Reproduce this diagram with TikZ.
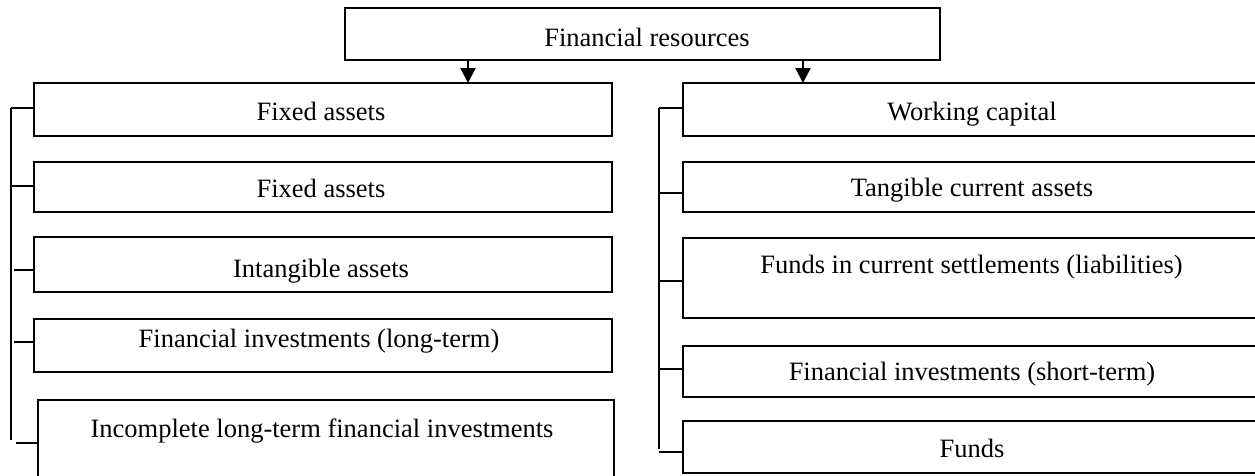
\documentclass[tikz,border=0pt]{standalone}
\usepackage{fontspec}
\setmainfont{Liberation Serif}
\usetikzlibrary{arrows.meta}
\begin{document}
\begin{tikzpicture}[x=1pt,y=-1pt,
  box/.style={draw=black,line width=2.2pt,rectangle,inner sep=0pt,outer sep=0pt},
  txt/.style={font=\fontsize{26.5}{30}\selectfont,inner sep=0pt,anchor=base},
  conn/.style={draw=black,line width=2.2pt},
  arr/.style={conn,-{Triangle[length=15pt,width=15pt]}}]
\useasboundingbox (0,0) rectangle (1255,475);
\clip (0,0) rectangle (1255,475);
% top box
\node[box,minimum width=595pt,minimum height=52pt] (top) at (642.5,34) {};
\node[txt] (ttop) at (647,46) {Financial resources};
% left boxes
\node[box,minimum width=578pt,minimum height=53pt] (L1) at (323,109.5) {};
\node[box,minimum width=578pt,minimum height=50pt] (L2) at (323,187) {};
\node[box,minimum width=578pt,minimum height=55pt] (L3) at (323,264.5) {};
\node[box,minimum width=578pt,minimum height=53pt] (L4) at (323,345.5) {};
\node[box,minimum width=576pt,minimum height=90pt] (L5) at (326,445) {};
\node[txt] at (321,120) {Fixed assets};
\node[txt] at (321,197) {Fixed assets};
\node[txt] at (321,277) {Intangible assets};
\node[txt] at (319,347) {Financial investments (long-term)};
\node[txt] at (322,437) {Incomplete long-term financial investments};
% right boxes
\node[box,minimum width=579pt,minimum height=53pt] (R1) at (972.5,109.5) {};
\node[box,minimum width=579pt,minimum height=50pt] (R2) at (972.5,187) {};
\node[box,minimum width=579pt,minimum height=80pt] (R3) at (972.5,278) {};
\node[box,minimum width=579pt,minimum height=51pt] (R4) at (972.5,371.5) {};
\node[box,minimum width=579pt,minimum height=52pt] (R5) at (972.5,447) {};
\node[txt] at (972,120) {Working capital};
\node[txt] at (972,196) {Tangible current assets};
\node[txt] at (971.5,273) {Funds in current settlements (liabilities)};
\node[txt] at (972,380) {Financial investments (short-term)};
\node[txt] at (972,457) {Funds};
% arrows
\draw[arr] (top.south -| 468,0) -- (L1.north -| 468,0);
\draw[arr] (top.south -| 803,0) -- (R1.north -| 803,0);
% left bracket
\coordinate (lt) at (11,108);
\coordinate (lb) at (11,440);
\draw[conn] (lt) -- (lb);
\draw[conn] (lt) -- (L1.west |- lt);
\draw[conn] (10,186) -- (L2.west |- 0,186);
\draw[conn] (14,270) -- (L3.west |- 0,270);
\draw[conn] (14,342) -- (L4.west |- 0,342);
\draw[conn] (16,443) -- (L5.west |- 0,443);
% right bracket
\coordinate (rt) at (659,108);
\coordinate (rb) at (659,449);
\draw[conn] (rt) -- (rb);
\draw[conn] (rt) -- (R1.west |- rt);
\draw[conn] (659,193) -- (R2.west |- 0,193);
\draw[conn] (659,281) -- (R3.west |- 0,281);
\draw[conn] (659,369) -- (R4.west |- 0,369);
\draw[conn] (659,452) -- (R5.west |- 0,452);
\end{tikzpicture}
\end{document}
